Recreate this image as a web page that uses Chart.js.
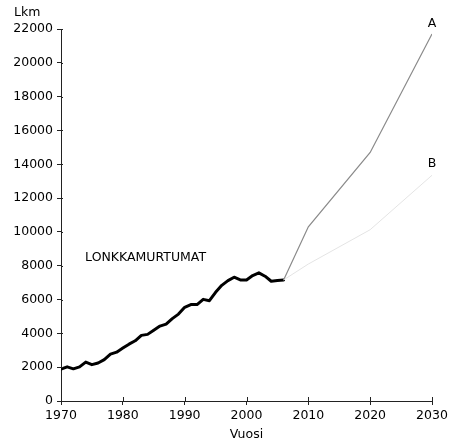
<!DOCTYPE html>
<html>
<head>
<meta charset="utf-8">
<script src="https://cdn.jsdelivr.net/npm/chart.js@4.4.1/dist/chart.umd.min.js"></script>
<style>
html,body{margin:0;padding:0;background:#fff;}
#wrap{width:459px;height:442px;position:relative;}
</style>
</head>
<body>
<div id="wrap"><canvas id="c" width="459" height="442"></canvas></div>
<script>
// Historical data (Lonkkamurtumat)
const years = [1970,1971,1972,1973,1974,1975,1976,1977,1978,1979,1980,1981,1982,1983,1984,1985,1986,1987,1988,1989,1990,1991,1992,1993,1994,1995,1996,1997,1998,1999,2000,2001,2002,2003,2004,2005,2006];
const fractures = [1880,2020,1900,2020,2300,2150,2250,2450,2770,2890,3130,3360,3560,3880,3940,4190,4430,4550,4870,5140,5540,5700,5700,6010,5930,6430,6840,7120,7320,7160,7160,7420,7580,7380,7080,7120,7160];
// Projections
const projYears = [2006,2010,2020,2030];
const projA = [7160,10300,14700,21700];
const projB = [7160,8100,10130,13350];
const xTicks = [1970,1980,1990,2000,2010,2020,2030];
const yTicks = [0,2000,4000,6000,8000,10000,12000,14000,16000,18000,20000,22000];
const seriesLabel = "LONKKAMURTUMAT";
const yTitle = "Lkm";
const xTitle = "Vuosi";

const FONT = "DejaVu Sans";
const FS = 12.5;
const toXY = (xs, ys) => xs.map((x,i)=>({x:x,y:ys[i]}));

const annot = {
  id:'annot',
  afterDatasetsDraw(chart){
    const ctx = chart.ctx, xs = chart.scales.x, ys = chart.scales.y;
    ctx.save();
    ctx.strokeStyle = '#222'; ctx.lineWidth = 1;
    // inner halves of tick marks
    ctx.beginPath();
    xTicks.forEach(v=>{const p=Math.round(xs.getPixelForValue(v))+0.5; ctx.moveTo(p, ys.bottom); ctx.lineTo(p, ys.bottom-4);});
    yTicks.forEach(v=>{const p=Math.round(ys.getPixelForValue(v))+0.5; ctx.moveTo(xs.left, p); ctx.lineTo(xs.left+2, p);});
    ctx.stroke();
    ctx.fillStyle = '#000';
    ctx.font = FS + 'px "' + FONT + '"';
    ctx.textAlign = 'center'; ctx.textBaseline = 'middle';
    ctx.fillText('A', xs.getPixelForValue(2030), ys.getPixelForValue(projA[3]) - 10);
    ctx.fillText('B', xs.getPixelForValue(2030), ys.getPixelForValue(projB[3]) - 12);
    ctx.textAlign = 'left';
    ctx.fillText(seriesLabel, xs.getPixelForValue(1973.9), ys.getPixelForValue(8500));
    ctx.fillText(yTitle, 14, 13);
    ctx.restore();
  }
};

new Chart(document.getElementById('c'), {
  type:'line',
  data:{
    datasets:[
      {data:toXY(projYears, projB), borderColor:'#e4e4e4', borderWidth:1, pointRadius:0, fill:false, tension:0},
      {data:toXY(projYears, projA), borderColor:'#8a8a8a', borderWidth:1.2, pointRadius:0, fill:false, tension:0},
      {data:toXY(years, fractures), borderColor:'#000', borderWidth:3, pointRadius:0, fill:false, tension:0, borderJoinStyle:'round', borderCapStyle:'round'}
    ]
  },
  options:{
    responsive:false, animation:false,
    layout:{padding:{top:29, right:27, left:0, bottom:0}},
    plugins:{legend:{display:false}, tooltip:{enabled:false}, title:{display:false}},
    scales:{
      x:{type:'linear', min:1970, max:2030,
        afterBuildTicks(s){ s.ticks = xTicks.map(v=>({value:v})); },
        grid:{drawOnChartArea:false, drawTicks:true, tickLength:4, color:'#222'},
        border:{color:'#222', width:1},
        ticks:{color:'#000', font:{family:FONT, size:FS}, padding:3, maxRotation:0, autoSkip:false, callback:v=>String(v)},
        title:{display:true, text:xTitle, color:'#000', font:{family:FONT, size:FS}, padding:{top:1,bottom:0}}
      },
      y:{type:'linear', min:0, max:22000,
        afterBuildTicks(s){ s.ticks = yTicks.map(v=>({value:v})); },
        afterFit(s){ s.width = 61; },
        grid:{drawOnChartArea:false, drawTicks:true, tickLength:4, color:'#222'},
        border:{color:'#222', width:1},
        ticks:{color:'#000', font:{family:FONT, size:FS}, padding:4, autoSkip:false, callback:v=>String(v)}
      }
    }
  },
  plugins:[annot]
});
</script>
</body>
</html>
